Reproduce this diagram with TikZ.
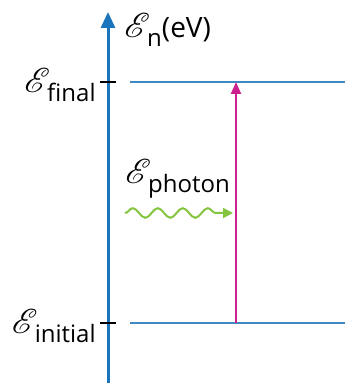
\documentclass[tikz,border=0pt]{standalone}
\usepackage{fontspec}
\setsansfont{Open Sans}
\usepackage{mathrsfs}
\definecolor{axblue}{RGB}{27,117,188}
\definecolor{lvlblue}{RGB}{62,136,196}
\definecolor{phmagenta}{RGB}{204,32,142}
\definecolor{phgreen}{RGB}{132,196,62}
\usetikzlibrary{arrows.meta,decorations.pathmorphing}
\newcommand{\scriptE}{{\fontsize{17}{17}\selectfont$\mathscr{E}$}\kern-1.5pt}
\newcommand{\enlabel}[1]{\scriptE\raisebox{-4.5pt}{\fontsize{12}{12}\selectfont\sffamily #1}}

\begin{document}
\begin{tikzpicture}[x=0.5pt, y=-0.5pt,
  axis/.style={draw=axblue, line width=1.5pt, -{Triangle[length=8pt,width=7pt]}},
  level/.style={draw=lvlblue, line width=1pt},
  tickmark/.style={draw=black, line width=0.8pt},
  jump/.style={draw=phmagenta, line width=1pt, -{Triangle[length=6pt,width=5pt]}},
  wave/.style={draw=phgreen, line width=1pt, -{Triangle[length=5pt,width=5pt]},
               decorate, decoration={snake, amplitude=2.4pt, segment length=12.5pt, post length=4pt}},
  lbl/.style={inner sep=0pt, font=\sffamily}
]
\useasboundingbox (0,0) rectangle (352,383);

% Energy axis
\coordinate (axbot) at (108,383);
\coordinate (axtop) at (108,12);
\draw[axis] (axbot) -- (axtop);
\node[lbl, anchor=base west] (axlab) at (124,38)
  {\scriptE\raisebox{-4.5pt}{\fontsize{12}{12}\selectfont n}{\fontsize{14}{14}\selectfont(eV)}};

% Levels
\coordinate (finL) at (130,82);
\coordinate (finR) at (345,82);
\coordinate (iniL) at (130,323);
\coordinate (iniR) at (345,323);
\draw[level] (finL) -- (finR);
\draw[level] (iniL) -- (iniR);

% Ticks
\coordinate (finT1) at (100,82);
\coordinate (finT2) at (116,82);
\coordinate (iniT1) at (100,323);
\coordinate (iniT2) at (116,323);
\draw[tickmark] (finT1) -- (finT2);
\draw[tickmark] (iniT1) -- (iniT2);

\node[lbl, anchor=base east] (finlab) at (96,93) {\enlabel{final}};
\node[lbl, anchor=base east] (inilab) at (96,333) {\enlabel{initial}};

% Transition
\coordinate (jumpS) at (236,323);
\coordinate (jumpE) at (236,82);
\draw[jump] (jumpS) -- (jumpE);

% Photon
\node[lbl, anchor=base west] (phlab) at (125,184) {\enlabel{photon}};
\coordinate (waveS) at (125,213);
\coordinate (waveE) at (233,213);
\draw[wave] (waveS) -- (waveE);
\end{tikzpicture}
\end{document}
